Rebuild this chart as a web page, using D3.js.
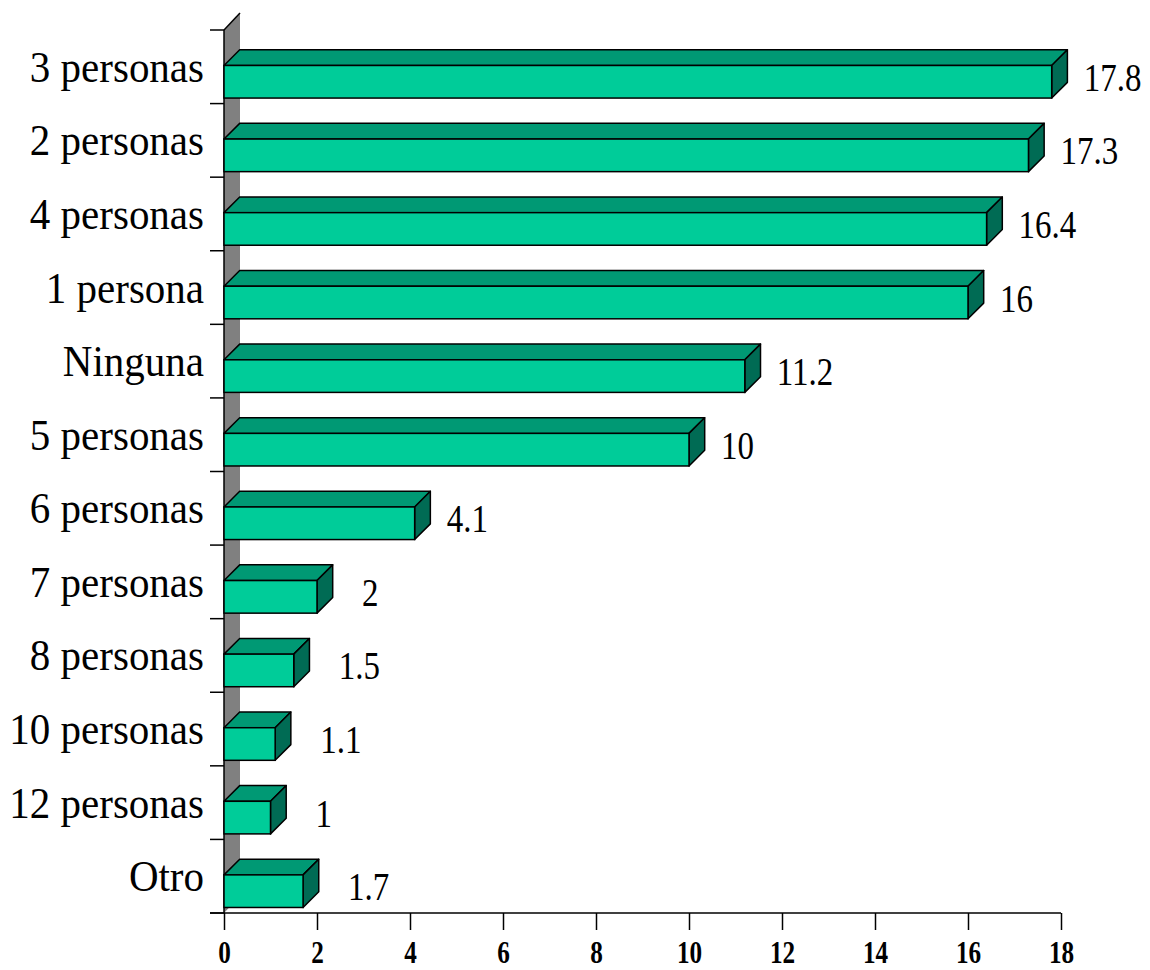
<!DOCTYPE html>
<html>
<head>
<meta charset="utf-8">
<script src="https://cdn.jsdelivr.net/npm/d3@7"></script>
<style>
  html, body { margin: 0; padding: 0; background: #ffffff; }
  svg { display: block; }
</style>
</head>
<body>
<svg id="chart" width="1150" height="970"></svg>
<script>
const categories = ["3 personas", "2 personas", "4 personas", "1 persona", "Ninguna", "5 personas",
                    "6 personas", "7 personas", "8 personas", "10 personas", "12 personas", "Otro"];
const values = [17.8, 17.3, 16.4, 16, 11.2, 10, 4.1, 2, 1.5, 1.1, 1, 1.7];
const valueLabels = ["17.8", "17.3", "16.4", "16", "11.2", "10", "4.1", "2", "1.5", "1.1", "1", "1.7"];
const xTicks = [0, 2, 4, 6, 8, 10, 12, 14, 16, 18];

(function () {
const svg = d3.select("#chart");
const pLeft = 224, pRight = 1061, pTop = 30, pBottom = 913;
const x = d3.scaleLinear().domain([0, 18]).range([pLeft, pRight]);
const y = d3.scaleBand().domain(categories).range([pTop, pBottom]).paddingInner(0).paddingOuter(0);
const bw = y.bandwidth();

const wallDx = 16, wallDy = 17;
const dx = 15.7, dy = 15.7;
const serif = "'Liberation Serif', 'Times New Roman', serif";

// back wall (left)
svg.append("polygon")
  .attr("points", [[pLeft, pTop], [pLeft + wallDx, pTop - wallDy], [pLeft + wallDx, pBottom - wallDy], [pLeft, pBottom]].join(" "))
  .attr("fill", "#808080");
svg.append("line")
  .attr("x1", pLeft).attr("y1", pTop).attr("x2", pLeft + wallDx).attr("y2", pTop - wallDy)
  .attr("stroke", "#000").attr("stroke-width", 1.5);

// left axis line + boundary ticks
svg.append("line")
  .attr("x1", pLeft).attr("y1", pTop).attr("x2", pLeft).attr("y2", pBottom)
  .attr("stroke", "#000").attr("stroke-width", 1.5);
const bounds = categories.map(c => y(c)).concat([y(categories[categories.length - 1]) + bw]);
svg.selectAll("line.ytick").data(bounds).enter().append("line")
  .attr("class", "ytick")
  .attr("x1", 210).attr("x2", pLeft)
  .attr("y1", d => d).attr("y2", d => d)
  .attr("stroke", "#000").attr("stroke-width", 1.5);

// bottom axis
const xAxis = d3.axisBottom(x).tickValues(xTicks).tickSize(17).tickSizeOuter(0).tickFormat(d3.format("d"));
const gx = svg.append("g").attr("transform", `translate(0,${pBottom})`).call(xAxis);
gx.select(".domain").remove();
gx.selectAll(".tick line").attr("stroke", "#000").attr("stroke-width", 1.5);
gx.selectAll(".tick text")
  .attr("y", null).attr("dy", null)
  .attr("transform", "translate(0,50) scale(1.05,1.3)")
  .attr("fill", "#000")
  .style("font-family", serif)
  .style("font-weight", "bold")
  .style("font-size", "24px");
svg.append("line")
  .attr("x1", 210).attr("x2", pRight).attr("y1", pBottom).attr("y2", pBottom)
  .attr("stroke", "#000").attr("stroke-width", 1.5);

// bars
const data = categories.map((c, i) => ({ c, v: values[i], label: valueLabels[i] }));
const gb = svg.selectAll("g.bar").data(data).enter().append("g").attr("class", "bar");
gb.each(function(d) {
  const g = d3.select(this);
  const x0 = x(0), x1 = x(d.v);
  const yT = y(d.c) + bw * 0.482, yB = y(d.c) + bw * 0.925;
  g.append("polygon")
    .attr("points", [[x0, yT], [x0 + dx, yT - dy], [x1 + dx, yT - dy], [x1, yT]].join(" "))
    .attr("fill", "#009974").attr("stroke", "#000").attr("stroke-width", 1.5).attr("stroke-linejoin", "round");
  g.append("polygon")
    .attr("points", [[x1, yT], [x1 + dx, yT - dy], [x1 + dx, yB - dy], [x1, yB]].join(" "))
    .attr("fill", "#006B54").attr("stroke", "#000").attr("stroke-width", 1.5).attr("stroke-linejoin", "round");
  g.append("rect")
    .attr("x", x0).attr("y", yT).attr("width", x1 - x0).attr("height", yB - yT)
    .attr("fill", "#00CC99").attr("stroke", "#000").attr("stroke-width", 1.5);
});

// value labels
svg.selectAll("text.val").data(data).enter().append("text")
  .attr("class", "val")
  .attr("transform", d => `translate(${x(d.v) + (d.v >= 3 ? 32 : 45)},${y(d.c) + bw / 2 + 24}) scale(1,1.2)`)
  .attr("text-anchor", "start")
  .style("font-family", serif)
  .style("font-size", "33px")
  .attr("fill", "#000")
  .text(d => d.label);

// category labels
svg.selectAll("text.cat").data(categories).enter().append("text")
  .attr("class", "cat")
  .attr("transform", d => `translate(204,${y(d) + bw / 2 + 15}) scale(1,1.1)`)
  .attr("text-anchor", "end")
  .style("font-family", serif)
  .style("font-size", "41px")
  .attr("fill", "#000")
  .text(d => d);
})();
</script>
</body>
</html>
